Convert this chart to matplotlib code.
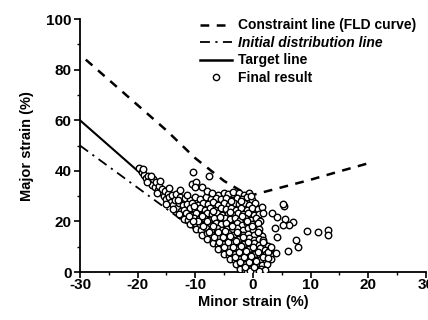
import matplotlib
matplotlib.use("Agg")
import matplotlib.pyplot as plt
from matplotlib.lines import Line2D

plt.rcParams['font.family'] = ['Liberation Sans', 'DejaVu Sans']
plt.rcParams['font.weight'] = 'bold'
plt.rcParams['axes.unicode_minus'] = False

# ---- data ----
fld_x = [-29, -25, -20, -15, -10, -5, -2, 0, 5, 10, 15, 20]
fld_y = [84, 76, 66, 56, 45, 36, 32, 30.5, 33.5, 36.5, 39.8, 43]

target_x = [-30, 0]
target_y = [60, 0]

initial_x = [-30, 0]
initial_y = [50, 0]

band_pts = [(-19.8, 41.2), (-19.3, 39.5), (-18.9, 38.2), (-18.6, 37.0), (-18.2, 37.8),
            (-17.9, 36.0), (-17.6, 34.6), (-17.3, 36.8), (-17.0, 33.8), (-16.8, 35.5),
            (-16.5, 32.5), (-16.3, 34.2), (-16.0, 31.5), (-15.8, 33.0), (-15.5, 30.2),
            (-15.3, 32.2), (-15.0, 28.8), (-14.8, 31.0), (-14.5, 29.6), (-14.3, 27.5),
            (-14.0, 30.4), (-13.8, 26.4), (-13.6, 28.6), (-13.3, 30.8), (-13.1, 25.2),
            (-12.9, 27.4), (-12.7, 32.6), (-12.6, 29.5), (-12.4, 24.0), (-12.2, 26.5),
            (-18.4, 35.7), (-16.7, 31.1), (-15.1, 27.0), (-19.0, 40.6), (-17.7, 38.1),
            (-16.2, 36.0), (-14.6, 33.1), (-13.9, 24.8), (-12.6, 22.6)]

core_pts = [
    # y ~ 31
    (-6.0, 30.6), (-5.1, 31.4), (-4.3, 30.8), (-3.4, 31.6), (-2.5, 31.1), (-1.6, 30.5), (-0.7, 31.3),
    # y ~ 29
    (-11.8, 29.2), (-10.9, 28.6), (-10.0, 29.5), (-9.1, 28.8), (-8.2, 29.6), (-7.3, 28.7), (-6.4, 29.3),
    (-5.5, 28.8), (-4.6, 29.4), (-3.7, 28.6), (-2.8, 29.2), (-1.9, 28.7), (-1.0, 29.5), (-0.1, 28.5),
    # y ~ 27
    (-11.4, 26.8), (-10.5, 27.4), (-9.6, 26.6), (-8.7, 27.3), (-7.8, 26.9), (-6.9, 27.5), (-6.0, 26.7),
    (-5.1, 27.2), (-4.2, 26.6), (-3.3, 27.4), (-2.4, 26.8), (-1.5, 27.3), (-0.6, 26.6), (0.4, 27.1),
    # y ~ 25
    (-11.9, 24.6), (-11.0, 25.3), (-10.1, 24.8), (-9.2, 25.4), (-8.3, 24.7), (-7.4, 25.2), (-6.5, 24.6),
    (-5.6, 25.3), (-4.7, 24.9), (-3.8, 25.5), (-2.9, 24.7), (-2.0, 25.2), (-1.1, 24.6), (-0.2, 25.3),
    (0.8, 24.8),
    # y ~ 23
    (-12.8, 22.9), (-11.6, 23.4), (-10.7, 22.7), (-9.8, 23.2), (-8.9, 22.6), (-8.0, 23.3), (-7.1, 22.8),
    (-6.2, 23.4), (-5.3, 22.7), (-4.4, 23.1), (-3.5, 22.6), (-2.6, 23.3), (-1.7, 22.8), (-0.8, 23.4),
    (0.2, 22.7), (1.1, 23.0),
    # y ~ 21
    (-11.9, 21.0), (-11.2, 20.6), (-10.3, 21.3), (-9.4, 20.8), (-8.5, 21.4), (-7.6, 20.7), (-6.7, 21.2),
    (-5.8, 20.6), (-4.9, 21.3), (-4.0, 20.8), (-3.1, 21.4), (-2.2, 20.7), (-1.3, 21.2), (-0.4, 20.6),
    (0.6, 21.3), (1.2, 20.2),
    # y ~ 19
    (-10.9, 18.8), (-10.0, 19.4), (-9.1, 18.7), (-8.2, 19.3), (-7.3, 18.6), (-6.4, 19.2), (-5.5, 18.8),
    (-4.6, 19.4), (-3.7, 18.7), (-2.8, 19.3), (-1.9, 18.6), (-1.0, 19.2), (-0.1, 18.8), (0.9, 19.3),
    # y ~ 17
    (-9.9, 17.2), (-9.0, 16.7), (-8.1, 17.3), (-7.2, 16.8), (-6.3, 17.4), (-5.4, 16.6), (-4.5, 17.2),
    (-3.6, 16.7), (-2.7, 17.3), (-1.8, 16.8), (-0.9, 17.4), (0.0, 16.7), (1.0, 17.1),
    # y ~ 15
    (-8.9, 14.8), (-8.0, 15.3), (-7.1, 14.7), (-6.2, 15.2), (-5.3, 14.6), (-4.4, 15.3), (-3.5, 14.8),
    (-2.6, 15.4), (-1.7, 14.7), (-0.8, 15.2), (0.1, 14.6), (1.1, 15.3), (1.6, 14.2),
    # y ~ 13
    (-7.9, 13.2), (-7.0, 12.7), (-6.1, 13.3), (-5.2, 12.8), (-4.3, 13.4), (-3.4, 12.6), (-2.5, 13.2),
    (-1.6, 12.7), (-0.7, 13.3), (0.2, 12.8), (1.0, 13.2), (1.8, 12.5),
    # y ~ 11
    (-7.0, 11.3), (-6.1, 10.8), (-5.2, 11.2), (-4.3, 10.7), (-3.4, 11.3), (-2.5, 10.6), (-1.6, 11.2),
    (-0.7, 10.8), (0.2, 11.4), (1.1, 10.7), (2.0, 11.1), (2.6, 10.3),
    # y ~ 9
    (-6.0, 9.2), (-5.1, 8.7), (-4.2, 9.3), (-3.3, 8.8), (-2.4, 9.4), (-1.5, 8.6), (-0.6, 9.2),
    (0.3, 8.7), (1.2, 9.3), (2.1, 8.8), (2.9, 9.2),
    # y ~ 7
    (-5.0, 7.2), (-4.1, 6.7), (-3.2, 7.3), (-2.3, 6.8), (-1.4, 7.4), (-0.5, 6.6), (0.4, 7.2),
    (1.3, 6.7), (2.2, 7.3), (3.0, 6.8),
    # y ~ 5
    (-4.0, 5.2), (-3.1, 4.7), (-2.2, 5.3), (-1.3, 4.8), (-0.4, 5.4), (0.5, 4.6), (1.4, 5.2),
    (2.3, 4.8), (3.2, 5.1),
    # y ~ 3
    (-3.0, 3.2), (-2.1, 2.7), (-1.2, 3.3), (-0.3, 2.8), (0.6, 3.3), (1.5, 2.7), (2.4, 3.1),
    # y ~ 1
    (-2.2, 1.2), (-1.3, 0.8), (-0.4, 1.3), (0.5, 0.7), (1.4, 1.2), (2.1, 0.8),
    (-1.0, 0.2), (0.0, 0.3), (1.0, 0.2),
]

# extra overlapping points in the densest part of the cloud
core_fill_pts = [
    (-9.5, 20.0), (-8.6, 18.1), (-7.7, 16.0), (-6.8, 14.0), (-5.9, 12.0), (-5.0, 10.0), (-4.1, 8.0),
    (-3.2, 6.0), (-2.3, 4.0), (-1.4, 2.0), (-0.5, 0.4), (-8.8, 22.0), (-7.9, 20.0), (-7.0, 18.0),
    (-6.1, 16.0), (-5.2, 14.0), (-4.3, 12.0), (-3.4, 10.0), (-2.5, 8.0), (-1.6, 6.0), (-0.7, 4.0),
    (0.2, 2.0), (-4.8, 16.2), (-3.9, 14.2), (-3.0, 12.2), (-2.1, 10.2), (-1.2, 8.2), (-0.3, 6.2),
    (0.6, 4.2), (-3.6, 18.0), (-2.7, 16.0), (-1.8, 14.0), (-0.9, 12.0), (0.0, 10.0), (0.9, 8.0),
    (1.8, 6.0), (-1.9, 22.1), (-1.0, 20.0), (-0.1, 18.0), (0.8, 16.0), (1.7, 11.9), (2.6, 7.9),
    (-3.8, 27.9), (-2.0, 27.9), (-0.3, 30.0), (-5.8, 21.9), (-4.0, 23.9), (-6.9, 24.0),
    (-10.4, 20.1), (-11.1, 22.1), (-10.2, 26.1), (-13.0, 28.4), (-11.4, 30.3),
]

spread_pts = [(-10.4, 39.6), (-10.6, 34.8), (-9.8, 35.5), (-7.6, 37.9), (-10.1, 33.6),
              (-8.9, 33.7), (-8.0, 31.9), (-7.1, 31.3),
              (1.5, 25.8), (5.4, 26.2), (5.3, 26.9), (3.3, 23.4), (1.8, 23.2), (4.2, 21.6),
              (5.5, 20.8), (6.9, 19.9), (6.2, 18.6), (5.2, 18.6), (3.9, 17.3), (9.3, 16.3),
              (11.2, 15.9), (13.1, 16.6), (13.1, 14.6), (4.2, 13.7), (7.5, 12.6), (7.9, 9.8),
              (6.0, 8.4), (4.0, 7.6), (2.6, 5.4), (3.2, 10.0)]

x_ticks = [-30, -20, -10, 0, 10, 20, 30]
y_ticks = [0, 20, 40, 60, 80, 100]

# ---- figure ----
fig = plt.figure(figsize=(4.28, 3.20), dpi=100)
ax = fig.add_axes([0.187, 0.15, 0.808, 0.79])

all_pts = band_pts + core_pts + core_fill_pts + spread_pts
sx = [p[0] for p in all_pts]
sy = [p[1] for p in all_pts]

fld_dash = (3.5, 3.0)
init_dash = (5.5, 3.0, 1.2, 3.0)

ax.plot(fld_x, fld_y, color='black', lw=1.8, dashes=fld_dash)
ax.plot(initial_x, initial_y, color='black', lw=1.3, dashes=init_dash)
ax.plot(target_x, target_y, color='black', lw=1.5)
ax.scatter(sx, sy, s=22, facecolors='white', edgecolors='black', linewidths=1.0, zorder=3)

ax.set_xlim(-30, 30)
ax.set_ylim(0, 100)
ax.set_xticks(x_ticks)
ax.set_yticks(y_ticks)
ax.set_xticks(range(-25, 30, 10), minor=True)
ax.set_yticks(range(10, 100, 20), minor=True)
ax.spines['top'].set_visible(False)
ax.spines['right'].set_visible(False)
ax.spines['left'].set_linewidth(1.3)
ax.spines['bottom'].set_linewidth(1.3)
ax.tick_params(which='major', direction='out', length=4, width=1.2, labelsize=11)
ax.tick_params(axis='x', which='major', pad=0.5)
ax.tick_params(axis='y', which='major', pad=2)
ax.tick_params(which='minor', direction='out', length=2, width=1.0)
for lab in ax.get_xticklabels() + ax.get_yticklabels():
    lab.set_fontweight('bold')

ax.set_xlabel('Minor strain (%)', fontsize=10.5, fontweight='bold', labelpad=2)
ax.set_ylabel('Major strain (%)', fontsize=10.5, fontweight='bold', labelpad=9)

handles = [
    Line2D([], [], color='black', lw=1.8, dashes=fld_dash),
    Line2D([], [], color='black', lw=1.3, dashes=init_dash),
    Line2D([], [], color='black', lw=1.8),
    Line2D([], [], color='black', lw=0, marker='o', markersize=4.5,
           markerfacecolor='white', markeredgecolor='black', markeredgewidth=1.0),
]
labels = ['Constraint line (FLD curve)', 'Initial distribution line', 'Target line', 'Final result']
leg = ax.legend(handles, labels, loc='upper left', bbox_to_anchor=(0.33, 1.025),
                frameon=False, fontsize=10, handlelength=2.3, handletextpad=0.45,
                labelspacing=0.25, borderaxespad=0)
for t in leg.get_texts():
    t.set_fontweight('bold')
leg.get_texts()[1].set_fontstyle('italic')

fig.savefig('out.png', dpi=100)
